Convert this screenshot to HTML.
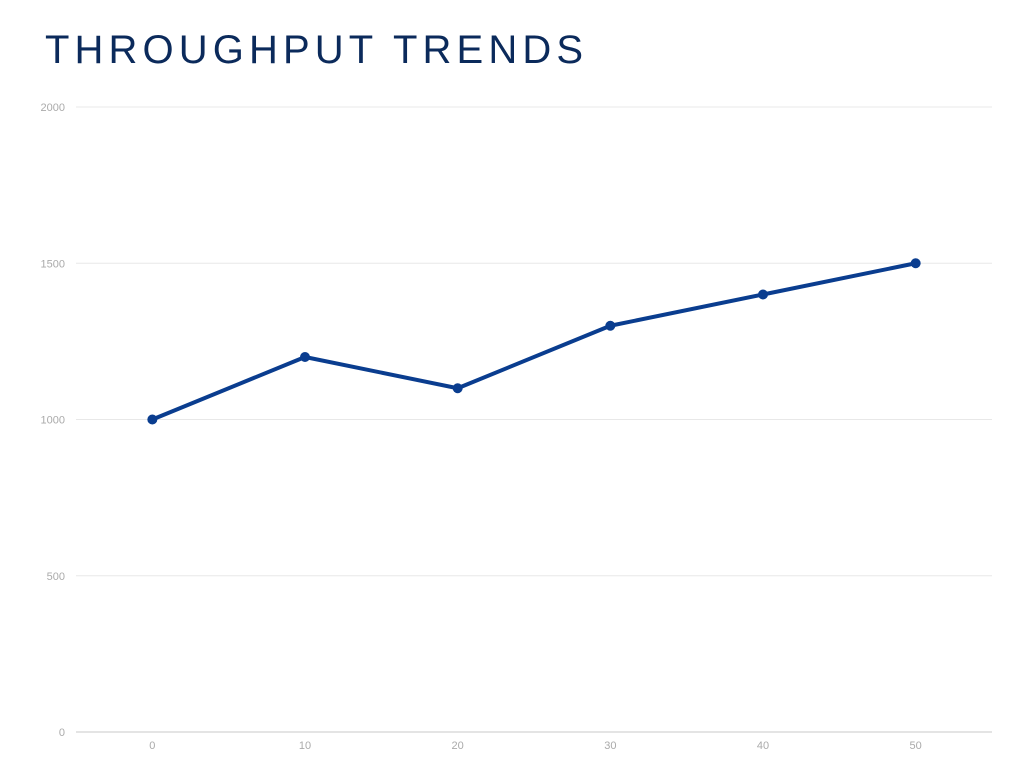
<!DOCTYPE html>
<html><head><meta charset="utf-8"><style>
html,body{margin:0;padding:0;background:#fff;}
svg{display:block;font-family:"Liberation Sans",sans-serif;}
</style></head><body>
<svg id="chart" width="1024" height="768">
<text x="45" y="63" font-size="40" fill="#0b2a5b" textLength="538" lengthAdjust="spacing">THROUGHPUT TRENDS</text>
<g id="grid"></g><g id="axes"></g><g id="series"></g>
</svg>
<script>
const xValues = [0, 10, 20, 30, 40, 50];
const throughput = [1000, 1200, 1100, 1300, 1400, 1500];
const yTicks = [0, 500, 1000, 1500, 2000];
const xTicks = [0, 10, 20, 30, 40, 50];
const NS = 'http://www.w3.org/2000/svg';
const X0 = 76, X1 = 992, Y0 = 732, Y1 = 107;
const xMin = -5, xMax = 55, yMin = 0, yMax = 2000;
function sx(v){return X0 + (v - xMin) / (xMax - xMin) * (X1 - X0);}
function sy(v){return Y0 - (v - yMin) / (yMax - yMin) * (Y0 - Y1);}
function mk(tag, attrs, parent){const e=document.createElementNS(NS,tag);for(const k in attrs)e.setAttribute(k,attrs[k]);parent.appendChild(e);return e;}
const grid=document.getElementById('grid'), axes=document.getElementById('axes'), series=document.getElementById('series');
yTicks.forEach(t=>{
  const l=mk('line',{x1:X0,x2:X1,y1:sy(t),y2:sy(t),stroke:t===0?'#c8c8c8':'#e8e8e8','stroke-width':1},grid);
  
  
  const tx=mk('text',{x:65,y:sy(t)+4,'text-anchor':'end','font-size':11,fill:'#aaa'},axes);
  tx.textContent=t;
  
  
});
xTicks.forEach(t=>{
  const tx=mk('text',{x:sx(t),y:749,'text-anchor':'middle','font-size':11,fill:'#aaa'},axes);
  tx.textContent=t;
  
  
});
const pts=xValues.map((x,i)=>sx(x)+','+sy(throughput[i])).join(' ');
const pl=mk('polyline',{points:pts,fill:'none',stroke:'#0a3d8f','stroke-width':4,'stroke-linejoin':'round'},series);


xValues.forEach((x,i)=>{
  const c=mk('circle',{cx:sx(x),cy:sy(throughput[i]),r:5,fill:'#0a3d8f'},series);
  
  
});
</script>
</body></html>
